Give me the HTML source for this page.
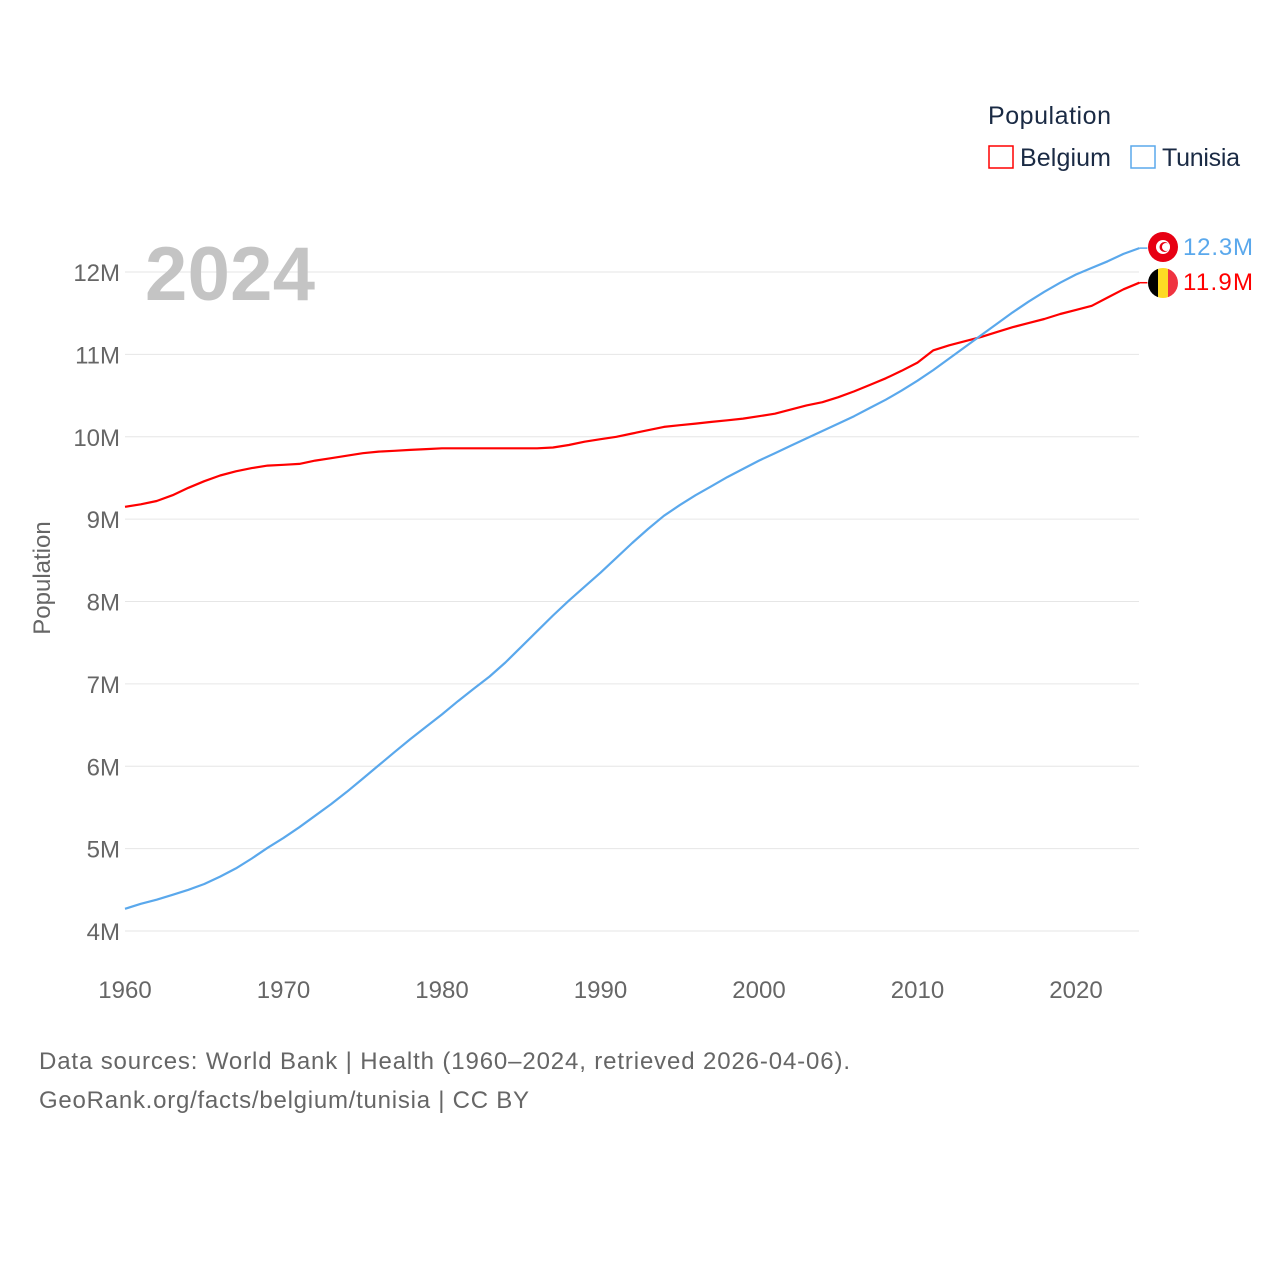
<!DOCTYPE html>
<html><head><meta charset="utf-8"><style>
body{margin:0;background:#fff;font-family:"Liberation Sans",sans-serif}
svg{display:block}
</style></head><body>
<svg id="chart" width="1280" height="1280" viewBox="0 0 1280 1280">
<g id="grid"></g>
<g id="yticks"></g>
<g id="xticks"></g>
<text x="145" y="300" font-size="76" font-weight="bold" fill="#c4c4c4" textLength="170">2024</text>
<text transform="translate(50,578) rotate(-90)" text-anchor="middle" font-size="24" fill="#666">Population</text>
<g id="lines"></g>
<g>
<text x="988" y="124" font-size="25" fill="#1a2a44" textLength="123">Population</text>
<g><rect x="989" y="146" width="24" height="22" fill="none" stroke="#ff0000" stroke-width="1.5"/><text x="1020" y="166" font-size="25" fill="#1a2a44" textLength="91">Belgium</text></g>
<g><rect x="1131" y="146" width="24" height="22" fill="none" stroke="#5aa8ec" stroke-width="1.5"/><text x="1162" y="166" font-size="25" fill="#1a2a44" textLength="78">Tunisia</text></g>
</g>
<g><circle cx="1163" cy="247" r="15" fill="#e70013"/><circle cx="1163" cy="247" r="7" fill="#fff"/><circle cx="1164.5" cy="247" r="5" fill="#e70013"/><circle cx="1166" cy="247" r="4" fill="#fff"/></g>
<g><clipPath id="bc"><circle cx="1163" cy="283" r="15"/></clipPath><g clip-path="url(#bc)"><rect x="1148" y="268" width="10" height="30" fill="#000"/><rect x="1158" y="268" width="10" height="30" fill="#fdda24"/><rect x="1168" y="268" width="10" height="30" fill="#ef3340"/></g></g>
<text x="1183" y="255" font-size="24" fill="#5aa8ec" textLength="70">12.3M</text>
<text x="1183" y="290" font-size="24" fill="#ff0000" textLength="70">11.9M</text>
<text x="39" y="1069" font-size="24" fill="#666" textLength="811">Data sources: World Bank | Health (1960–2024, retrieved 2026-04-06).</text>
<text x="39" y="1108" font-size="24" fill="#666" textLength="490">GeoRank.org/facts/belgium/tunisia | CC BY</text>
</svg>
<script>
const years=[];for(let y=1960;y<=2024;y++)years.push(y);
const belgium=[9.15,9.18,9.22,9.29,9.38,9.46,9.53,9.58,9.62,9.65,9.66,9.67,9.71,9.74,9.77,9.80,9.82,9.83,9.84,9.85,9.86,9.86,9.86,9.86,9.86,9.86,9.86,9.87,9.90,9.94,9.97,10.00,10.04,10.08,10.12,10.14,10.16,10.18,10.20,10.22,10.25,10.28,10.33,10.38,10.42,10.48,10.55,10.63,10.71,10.80,10.90,11.05,11.11,11.16,11.21,11.27,11.33,11.38,11.43,11.49,11.54,11.59,11.69,11.79,11.87];
const tunisia=[4.27,4.33,4.38,4.44,4.50,4.57,4.66,4.76,4.88,5.01,5.13,5.26,5.40,5.54,5.69,5.85,6.01,6.17,6.33,6.48,6.63,6.79,6.94,7.09,7.26,7.45,7.64,7.83,8.01,8.18,8.35,8.53,8.71,8.88,9.04,9.17,9.29,9.40,9.51,9.61,9.71,9.80,9.89,9.98,10.07,10.16,10.25,10.35,10.45,10.56,10.68,10.81,10.95,11.09,11.23,11.37,11.51,11.64,11.76,11.87,11.97,12.05,12.13,12.22,12.29];
const yTicks=[4,5,6,7,8,9,10,11,12];
const xTicks=[1960,1970,1980,1990,2000,2010,2020];
const NS='http://www.w3.org/2000/svg';
const X=y=>125+(y-1960)*(1076-125)/60;
const Y=v=>931-(v-4)*(931-272)/8;
function mk(tag,attrs,parent){const e=document.createElementNS(NS,tag);for(const k in attrs)e.setAttribute(k,attrs[k]);parent.appendChild(e);return e;}
const grid=document.getElementById('grid'),yt=document.getElementById('yticks'),xt=document.getElementById('xticks'),lines=document.getElementById('lines');
yTicks.forEach(v=>{
 const l=mk('line',{x1:125,x2:1139,y1:Y(v),y2:Y(v),stroke:'#e6e6e6','stroke-width':1},grid);
 
 
 const t=mk('text',{x:120,y:Y(v)+9,'text-anchor':'end','font-size':24,fill:'#666'},yt);
 t.textContent=v+'M';
 
 
});
xTicks.forEach(v=>{
 const t=mk('text',{x:X(v),y:998,'text-anchor':'middle','font-size':24,fill:'#666'},xt);
 t.textContent=v;
 
 
});
function draw(vals,color,name){
 const d=vals.map((v,i)=>(i?'L':'M')+X(years[i]).toFixed(1)+','+Y(v).toFixed(1)).join(' ');
 const p=mk('path',{d:d,fill:'none',stroke:color,'stroke-width':2.2,'stroke-linejoin':'round'},lines);
 
 
 const last=vals.length-1;
 const s=mk('line',{x1:X(years[last]),x2:X(years[last])+8,y1:Y(vals[last]),y2:Y(vals[last]),stroke:color,'stroke-width':1.5},lines);
 
 
}
draw(belgium,'#ff0000','belgium-line');
draw(tunisia,'#5aa8ec','tunisia-line');
</script>
</body></html>
